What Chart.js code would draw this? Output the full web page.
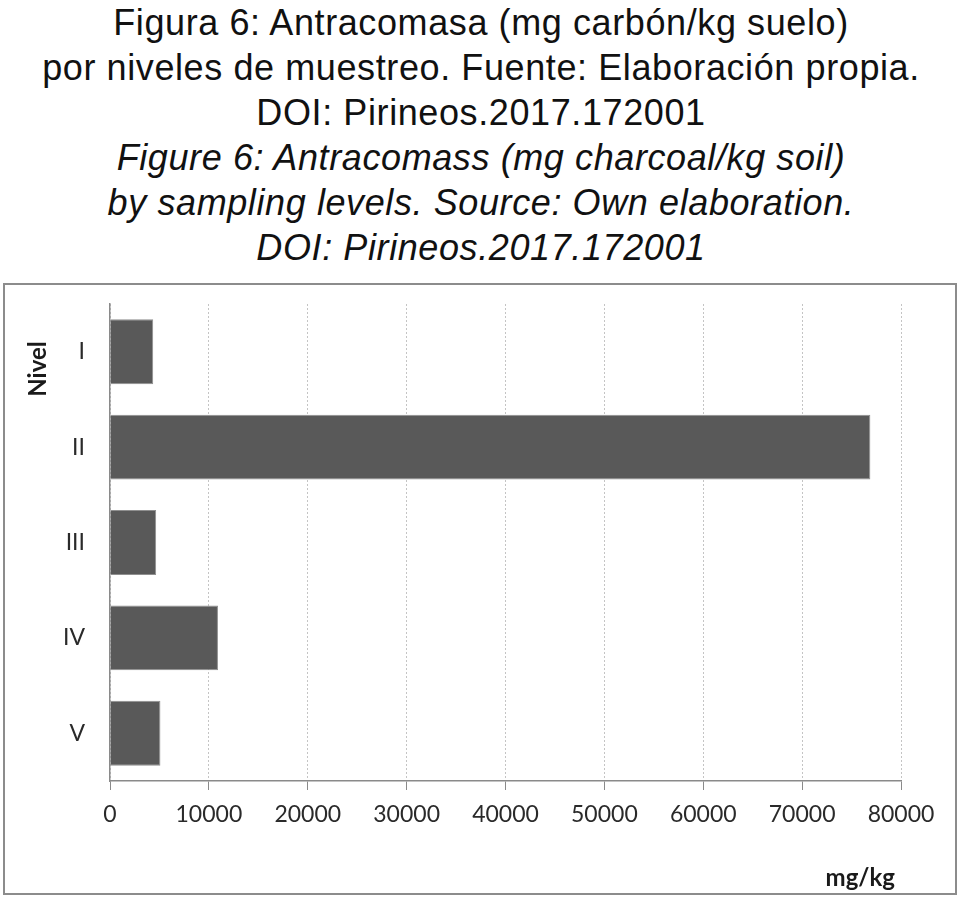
<!DOCTYPE html>
<html>
<head>
<meta charset="utf-8">
<script src="https://cdn.jsdelivr.net/npm/chart.js@4"></script>
<style>
  body { margin: 0; background: #fff; width: 962px; height: 900px; position: relative; overflow: hidden; }
  .titulo { position: absolute; left: 0; top: 0; width: 962px; text-align: center;
            font-family: "Liberation Sans", Arial, sans-serif; font-size: 36px; line-height: 45px;
            letter-spacing: 0.6px; color: #111; }
  .titulo .en { font-style: italic; }
  #marco { position: absolute; left: 3px; top: 283px; width: 950px; height: 608px; border: 2px solid #8c8c8c; }
  #grafico { display: block; }
</style>
</head>
<body>
<div class="titulo">
  <div>Figura 6: Antracomasa (mg carbón/kg suelo)</div>
  <div>por niveles de muestreo. Fuente: Elaboración propia.</div>
  <div>DOI: Pirineos.2017.172001</div>
  <div class="en">Figure 6: Antracomass (mg charcoal/kg soil)</div>
  <div class="en">by sampling levels. Source: Own elaboration.</div>
  <div class="en">DOI: Pirineos.2017.172001</div>
</div>
<div id="marco"><canvas id="grafico" width="950" height="608"></canvas></div>
<script>
// Datos
const niveles = ['I', 'II', 'III', 'IV', 'V'];
const antracomasa = [4370, 76900, 4670, 10920, 5100];
const ejeTicks = [0, 10000, 20000, 30000, 40000, 50000, 60000, 70000, 80000];
const tituloY = 'Nivel';
const tituloX = 'mg/kg';

// Etiquetas "Nivel" (arriba del eje) y "mg/kg", como en el original
const etiquetasEjes = {
  id: 'etiquetasEjes',
  afterDraw(chart) {
    const ctx = chart.ctx;
    const area = chart.chartArea;
    ctx.save();
    ctx.font = 'bold 24px Lato';
    ctx.fillStyle = '#1a1a1a';
    ctx.textBaseline = 'middle';
    ctx.textAlign = 'right';
    ctx.fillText(tituloX, area.right - 6, chart.height - 15);
    ctx.translate(area.left - 72, area.top + 65);
    ctx.rotate(-Math.PI / 2);
    ctx.textAlign = 'center';
    ctx.fillText(tituloY, 0, 0);
    ctx.restore();
  }
};

const ctx = document.getElementById('grafico').getContext('2d');
new Chart(ctx, {
  type: 'bar',
  data: {
    labels: niveles,
    datasets: [{
      data: antracomasa,
      backgroundColor: '#595959',
      borderColor: '#8f8f8f',
      borderWidth: 1,
      borderSkipped: 'left',
      barPercentage: 0.68,
      categoryPercentage: 1
    }]
  },
  options: {
    indexAxis: 'y',
    responsive: false,
    animation: false,
    layout: { padding: { top: 19, right: 54, left: 0, bottom: 0 } },
    plugins: {
      legend: { display: false },
      tooltip: { enabled: false }
    },
    scales: {
      x: {
        min: 0,
        max: 80000,
        afterBuildTicks: (axis) => { axis.ticks = ejeTicks.map(v => ({ value: v })); },
        afterFit: (axis) => { axis.height = 112; },
        grid: {
          color: '#c4c4c4',
          lineWidth: 1,
          drawTicks: true,
          tickLength: 9,
          tickColor: '#8a8a8a',
          tickBorderDash: []
        },
        border: { display: true, color: '#8a8a8a', width: 1.5, dash: [2, 2] },
        ticks: {
          color: '#2a2a2a',
          font: { family: 'Lato', size: 23 },
          padding: 11,
          maxRotation: 0,
          callback: (v) => String(v)
        }
      },
      y: {
        afterFit: (axis) => {
          axis.width = 105;
          axis.paddingTop = 0;
          axis.paddingBottom = 0;
        },
        grid: { display: false, drawTicks: false },
        border: { display: true, color: '#8a8a8a', width: 1.5 },
        ticks: {
          color: '#2a2a2a',
          font: { family: 'Lato', size: 23 },
          padding: 25
        }
      }
    }
  },
  plugins: [etiquetasEjes]
});
</script>
</body>
</html>
